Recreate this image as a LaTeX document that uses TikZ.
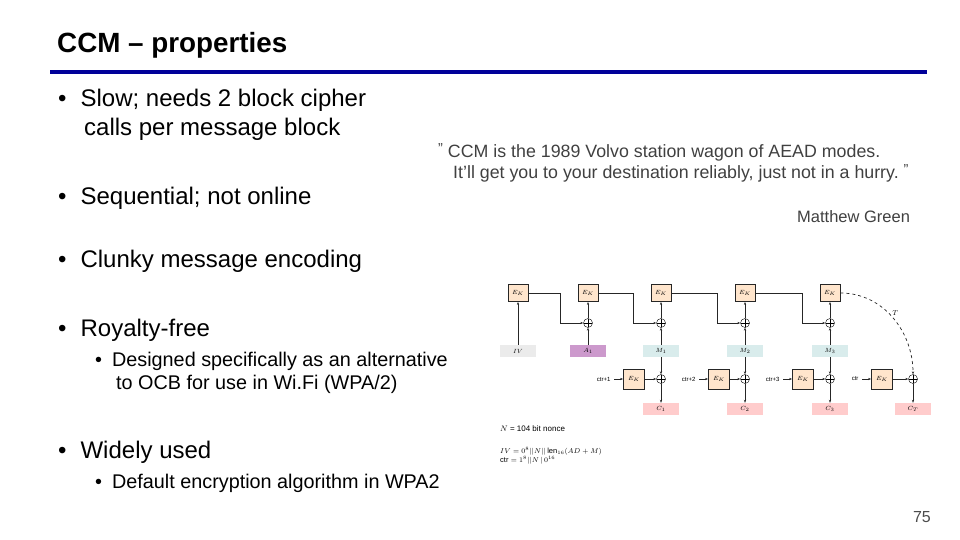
\documentclass[tikz,border=0pt]{standalone}
\usepackage{fontspec}
\setmainfont{Liberation Sans}
\usetikzlibrary{arrows.meta}
\begin{document}
\begin{tikzpicture}[x=1pt,y=-1pt,
  txt/.style={anchor=west,inner sep=0pt,font=\fontsize{24}{28}\selectfont},
  txs/.style={anchor=west,inner sep=0pt,font=\fontsize{19.8}{22}\selectfont},
  ek/.style={draw=black!85,fill=orange!20,minimum width=20pt,minimum height=17pt,inner sep=0pt,font=\fontsize{6}{7}\selectfont,line width=0.8pt},
  inb/.style={fill=#1,minimum width=36pt,minimum height=12pt,inner sep=0pt,font=\fontsize{6}{7}\selectfont},
  xo/.style={circle,draw,minimum size=9pt,inner sep=0pt,path picture={\draw (path picture bounding box.north)--(path picture bounding box.south)(path picture bounding box.west)--(path picture bounding box.east);}},
  ln/.style={draw=black!85,line width=0.7pt},
  ar/.style={ln,-{Stealth[length=3pt]}}]
\useasboundingbox (0,0) rectangle (960,540);
\node[anchor=west,inner sep=0pt,font=\bfseries\fontsize{27.8}{30}\selectfont] (title) at (57,45) {CCM -- properties};
\draw[line width=3.5pt,color=blue!60!black] (50,72) coordinate (r1) -- (927,72) coordinate (r2);
\node[txt] (b1) at (58,100) {•\hspace{14pt}Slow; needs 2 block cipher};
\node[txt] (b1b) at (84,129) {calls per message block};
\node[txt] (b2) at (58,198) {•\hspace{14pt}Sequential; not online};
\node[txt] (b3) at (58,261) {•\hspace{14pt}Clunky message encoding};
\node[txt] (b4) at (58,330) {•\hspace{14pt}Royalty-free};
\node[txs] (b5) at (95,361) {•\hspace{10pt}Designed specifically as an alternative};
\node[txs] (b5b) at (116,384) {to OCB for use in Wi.Fi (WPA/2)};
\node[txt] (b6) at (58,452) {•\hspace{14pt}Widely used};
\node[txs] (b7) at (95,483) {•\hspace{10pt}Default encryption algorithm in WPA2};
\node[anchor=west,inner sep=0pt,font=\fontsize{17.8}{20}\selectfont,color=black!75] (q1) at (438,152) {\raisebox{4pt}{\Large"}\ CCM is the 1989 Volvo station wagon of AEAD modes.};
\node[anchor=west,inner sep=0pt,font=\fontsize{17.8}{20}\selectfont,color=black!75] (q2) at (453,173) {It'll get you to your destination reliably, just not in a hurry.\ \raisebox{4pt}{\Large"}};
\node[anchor=west,inner sep=0pt,font=\fontsize{16.5}{19}\selectfont,color=black!75] (q3) at (797,217) {Matthew Green};
\node[anchor=east,inner sep=0pt,font=\fontsize{16}{18}\selectfont,color=black!70] (pg) at (931,517) {75};
% diagram
\foreach \i/\x in {1/518,2/588,3/661,4/745,5/830}{\node[ek] (E\i) at (\x,293) {$E_K$};}
\foreach \i/\x in {2/588,3/661,4/745,5/830}{\node[xo] (X\i) at (\x,323) {};}
\node[inb=black!8] (IV) at (518,351) {$IV$};
\node[inb=violet!40] (A1) at (588,351) {$A_1$};
\foreach \i/\x in {1/661,2/745,3/830}{\node[inb=teal!15] (M\i) at (\x,351) {$M_\i$};}
\foreach \i/\x in {1/661,2/745,3/830,4/913}{\node[xo] (Y\i) at (\x,379) {};}
\foreach \i/\x/\l in {1/634/ctr+1,2/719/ctr+2,3/803/ctr+3,4/882/ctr}{
  \node[ek,minimum width=21pt,minimum height=20pt] (F\i) at (\x,379) {$E_K$};
  \node[font=\fontsize{6}{7}\selectfont,anchor=east] (L\i) at (\x-20,379) {\l};
  \draw[ar] (L\i) -- (F\i); \draw[ar] (F\i) -- (Y\i);}
\foreach \i/\x in {1/661,2/745,3/830}{\node[inb=red!20] (C\i) at (\x,409) {$C_\i$};}
\node[inb=red!20] (CT) at (913,409) {$C_T$};
\draw[ar] (IV) -- (E1);
\draw[ar] (A1) -- (X2); \draw[ar] (X2) -- (E2);
\foreach \i in {1,2,3}{\pgfmathtruncatemacro\j{\i+2}\draw[ar] (M\i) -- (X\j); \draw[ar] (X\j) -- (E\j); \draw[ar] (M\i) -- (Y\i); \draw[ar] (Y\i) -- (C\i);}
\draw[ar] (Y4) -- (CT);
\foreach \i in {1,2,3,4}{\pgfmathtruncatemacro\j{\i+1}\draw[ar] (E\i.east) -| ([xshift=-28pt]X\j.center) |- (X\j.west);}
\draw[ar,dashed] (E5.east) to[out=0,in=90] node[pos=0.45,right,font=\fontsize{7}{8}\selectfont] (T) {$T$} (Y4.north);
\node[anchor=west,font=\fontsize{8}{9}\selectfont,inner sep=0pt] (n1) at (500,429) {$N$ = 104 bit nonce};
\node[anchor=west,font=\fontsize{7.5}{8.5}\selectfont,align=left,inner sep=0pt] (n2) at (500,456) {$IV = 0^8||N||\,\mathrm{len}_{16}(AD+M)$\\$\mathrm{ctr} = 1^8||N\,|\,0^{16}$};
\end{tikzpicture}
\end{document}
